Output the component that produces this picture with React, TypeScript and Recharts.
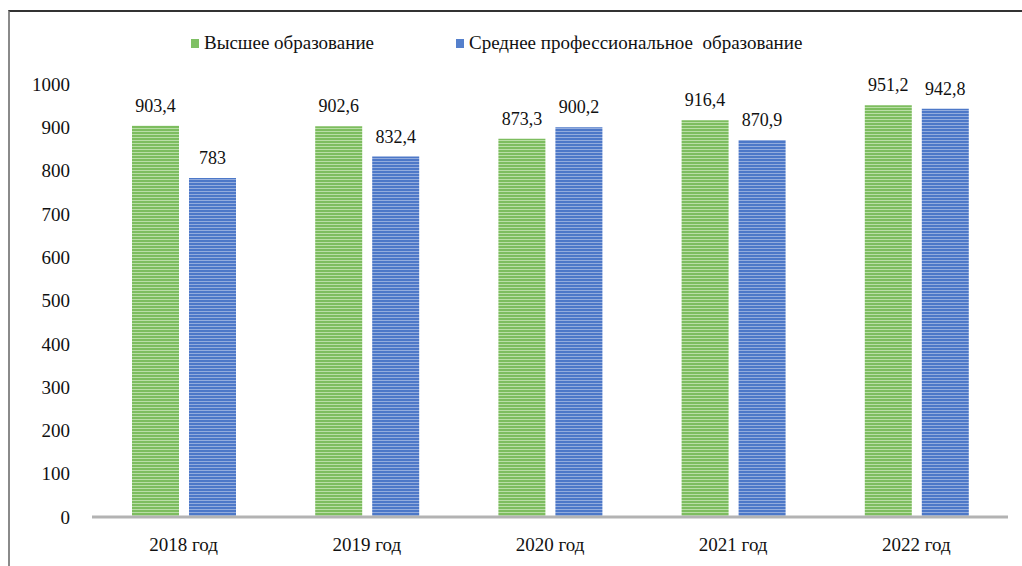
import { BarChart, Bar, XAxis, YAxis, LabelList } from 'recharts'

const years = ['2018 год', '2019 год', '2020 год', '2021 год', '2022 год']
const higherEdu = [903.4, 902.6, 873.3, 916.4, 951.2]
const vocationalEdu = [783, 832.4, 900.2, 870.9, 942.8]
const yTicks = [0, 100, 200, 300, 400, 500, 600, 700, 800, 900, 1000]

const seriesNames = ['Высшее образование', 'Среднее профессиональное  образование']

const data = years.map((year, i) => ({
  year,
  higher: higherEdu[i],
  vocational: vocationalEdu[i],
}))

const font = '"Liberation Serif", "Times New Roman", Times, serif'

const fmt = (v: any) => String(v).replace('.', ',')

function LegendBox() {
  const item = (color: string, label: string, left: number) => (
    <div style={{ position: 'absolute', left, top: 32, display: 'flex', alignItems: 'center', whiteSpace: 'pre' }}>
      <span style={{ width: 8, height: 9, background: color, display: 'inline-block', marginRight: 5 }} />
      <span style={{ fontFamily: font, fontSize: 19, color: '#111' }}>{label}</span>
    </div>
  )
  return (
    <>
      {item('#7fc064', seriesNames[0], 191)}
      {item('#5580cc', seriesNames[1], 456)}
    </>
  )
}

export default function App() {
  return (
    <div style={{ position: 'absolute', left: 0, top: 0, width: 1022, height: 566, background: '#fff', overflow: 'hidden', fontFamily: font }}>
      <div style={{ position: 'absolute', left: 8, top: 10, width: 1030, height: 570, borderTop: '2px solid #333', borderLeft: '2px solid #8a8a8a' }} />
      <LegendBox />
      <BarChart width={1022} height={566} data={data} margin={{ top: 84, right: 14, left: 0, bottom: 0 }} barGap={10} style={{ position: 'absolute', left: 0, top: 0, fontFamily: font }}>
        <defs>
          <pattern id="greenStripes" width="4" height="3" patternUnits="userSpaceOnUse">
            <rect width="4" height="3" fill="#7dbd5f" />
            <rect y="2" width="4" height="1" fill="#b9dea6" />
          </pattern>
          <pattern id="blueStripes" width="4" height="3" patternUnits="userSpaceOnUse">
            <rect width="4" height="3" fill="#4d78c8" />
            <rect y="2" width="4" height="1" fill="#93acdd" />
          </pattern>
        </defs>
        <XAxis
          dataKey="year"
          height={49}
          tickLine={false}
          tickSize={0}
          tickMargin={21}
          axisLine={{ stroke: '#b3b3b3', strokeWidth: 3 }}
          tick={{ fill: '#111', fontSize: 19, fontFamily: font }}
        />
        <YAxis
          width={92}
          domain={[0, 1000]}
          ticks={yTicks}
          interval={0}
          axisLine={false}
          tickLine={false}
          tickSize={0}
          tickMargin={22}
          tick={{ fill: '#111', fontSize: 19, fontFamily: font }}
        />
        <Bar dataKey="higher" name={seriesNames[0]} fill="url(#greenStripes)" barSize={47} isAnimationActive={false}>
          <LabelList dataKey="higher" position="top" offset={14} formatter={fmt} style={{ fill: '#111', fontSize: 18, fontFamily: font }} />
        </Bar>
        <Bar dataKey="vocational" name={seriesNames[1]} fill="url(#blueStripes)" barSize={47} isAnimationActive={false}>
          <LabelList dataKey="vocational" position="top" offset={14} formatter={fmt} style={{ fill: '#111', fontSize: 18, fontFamily: font }} />
        </Bar>
      </BarChart>
    </div>
  )
}
